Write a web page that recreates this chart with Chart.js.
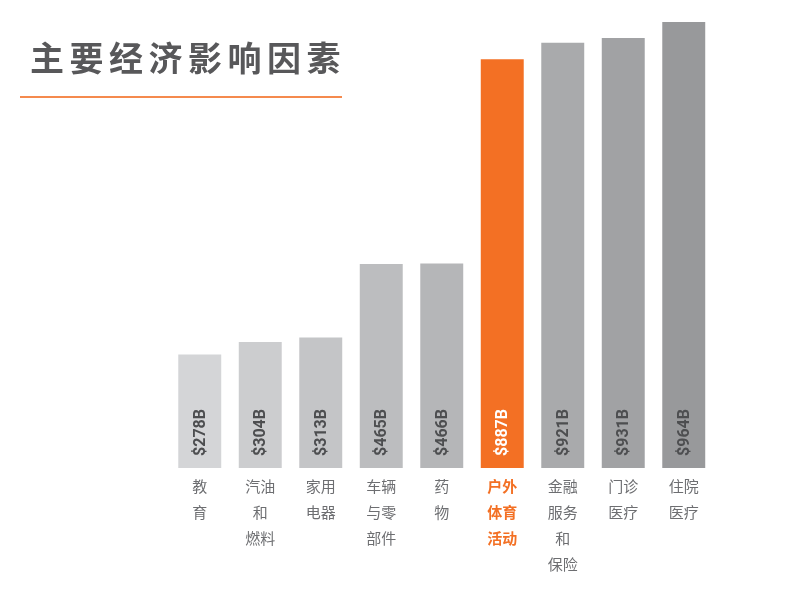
<!DOCTYPE html>
<html><head><meta charset="utf-8">
<script src="https://cdn.jsdelivr.net/npm/chart.js@4/dist/chart.umd.min.js"></script>
<style>
html,body{margin:0;padding:0;background:#fff;width:791px;height:596px;overflow:hidden;}
#wrap{position:relative;width:791px;height:596px;}
#title{position:absolute;left:30px;top:35px;margin:0;font-family:"Noto Sans CJK SC",sans-serif;font-weight:700;font-size:34px;line-height:44px;color:#58585a;letter-spacing:5.5px;white-space:nowrap;}
#rule{position:absolute;left:20px;top:96px;width:322px;height:2px;background:#f58a4e;}
canvas{position:absolute;left:0;top:0;}
</style></head>
<body><div id="wrap">
<canvas id="c" width="791" height="596"></canvas>
<h1 id="title">主要经济影响因素</h1>
<div id="rule"></div>
</div>
<script>
const categories = [["教","育"],["汽油","和","燃料"],["家用","电器"],["车辆","与零","部件"],["药","物"],["户外","体育","活动"],["金融","服务","和","保险"],["门诊","医疗"],["住院","医疗"]];
const values = [278,304,313,465,466,887,921,931,964];
const valueLabels = ["$278B","$304B","$313B","$465B","$466B","$887B","$921B","$931B","$964B"];
const barColors = ["#d4d5d7","#cccdcf","#c4c5c7","#bcbdbf","#b5b6b8","#f37024","#a9aaac","#a1a2a4","#98999b"];
const highlightIndex = 5;

const valueLabelPlugin = {
  id:'valueLabels',
  afterDatasetsDraw(chart){
    const ctx = chart.ctx;
    const meta = chart.getDatasetMeta(0);
    const bottom = chart.chartArea.bottom;
    meta.data.forEach((bar,i)=>{
      ctx.save();
      ctx.translate(bar.x + 1, bottom - 35.5);
      ctx.rotate(-Math.PI/2);
      ctx.font = 'bold 16px Roboto, "Liberation Sans", Arial, sans-serif';
      ctx.textAlign = 'center';
      ctx.textBaseline = 'middle';
      ctx.fillStyle = i===highlightIndex ? '#ffffff' : '#4d4e50';
      ctx.fillText(valueLabels[i],0,0);
      ctx.restore();
    });
  }
};

new Chart(document.getElementById('c'),{
  type:'bar',
  data:{labels:categories,datasets:[{data:values,backgroundColor:barColors,borderWidth:0,categoryPercentage:0.71,barPercentage:1}]},
  options:{
    responsive:false,animation:false,
    layout:{padding:{left:169.5,right:77,top:22,bottom:0}},
    plugins:{legend:{display:false},tooltip:{enabled:false},title:{display:false}},
    scales:{
      y:{display:false,min:44,max:964},
      x:{
        grid:{display:false,drawTicks:false},
        border:{display:false},
        afterFit(scale){scale.height=128;},
        ticks:{
          padding:5,autoSkip:false,maxRotation:0,
          font:(c)=>({family:'"Noto Sans CJK SC", sans-serif',size:15,lineHeight:26/15,weight:c.index===highlightIndex?'bold':'normal'}),
          color:(c)=>c.index===highlightIndex?'#f37024':'#6d6e71'
        }
      }
    }
  },
  plugins:[valueLabelPlugin]
});
</script>
</body></html>
